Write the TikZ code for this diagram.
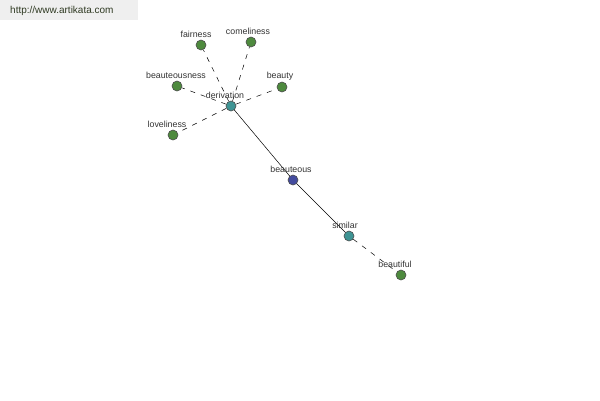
\documentclass[tikz,border=0pt]{standalone}
\usepackage{fontspec}
\setmainfont{Liberation Sans}
\usetikzlibrary{positioning}
\definecolor{leaf}{HTML}{4E8A3E}
\definecolor{rel}{HTML}{3E9494}
\definecolor{head}{HTML}{434B9E}
\definecolor{lbltxt}{HTML}{333333}
\definecolor{wmtxt}{HTML}{2F3A22}
\definecolor{wmgrey}{HTML}{EFEFEF}

\begin{document}
\begin{tikzpicture}[x=1pt,y=-1pt,font=\fontsize{8.8}{10}\selectfont,
  term/.style={circle,draw=black!70,line width=0.6pt,minimum size=10pt,inner sep=0pt},
  wordn/.style={term,fill=leaf},
  reln/.style={term,fill=rel},
  headn/.style={term,fill=head},
  lbl/.style={text=lbltxt,inner sep=1pt},
  lnk/.style={line width=0.5pt},
  dlnk/.style={line width=0.5pt,dash pattern=on 5pt off 6pt}]
\useasboundingbox[fill=white] (0,0) rectangle (600,400);
% watermark
\fill[wmgrey] (0,0) rectangle (138,20);
\node[lbl,text=wmtxt,anchor=west,font=\fontsize{10}{12}\selectfont] (site) at (9,11) {http://www.artikata.com};
% relation nodes
\node[reln] (deriv) at (231,106) {};
\node[headn] (beaut) at (293,180) {};
\node[reln] (simil) at (349,236) {};
% words
\node[wordn] (fair) at (201,45) {};
\node[wordn] (comel) at (251,42) {};
\node[wordn] (beautn) at (177,86) {};
\node[wordn] (beauty) at (282,87) {};
\node[wordn] (lovel) at (173,135) {};
\node[wordn] (btful) at (401,275) {};
% links
\draw[lnk] (deriv) -- (beaut);
\draw[lnk] (beaut) -- (simil);
\draw[dlnk] (simil) -- (btful);
\foreach \w in {fair,comel,beautn,beauty,lovel}
  \draw[dlnk] (deriv) -- (\w);
% labels
\node[lbl] (l-deriv) at (225,95) {derivation};
\node[lbl] (l-beaut) at (291,169) {beauteous};
\node[lbl] (l-simil) at (345,225) {similar};
\node[lbl] (l-fair) at (196,34) {fairness};
\node[lbl] (l-comel) at (248,31) {comeliness};
\node[lbl] (l-beautn) at (176,75) {beauteousness};
\node[lbl] (l-beauty) at (280,76) {beauty};
\node[lbl] (l-lovel) at (167,124) {loveliness};
\node[lbl] (l-btful) at (395,264) {beautiful};
\end{tikzpicture}
\end{document}
